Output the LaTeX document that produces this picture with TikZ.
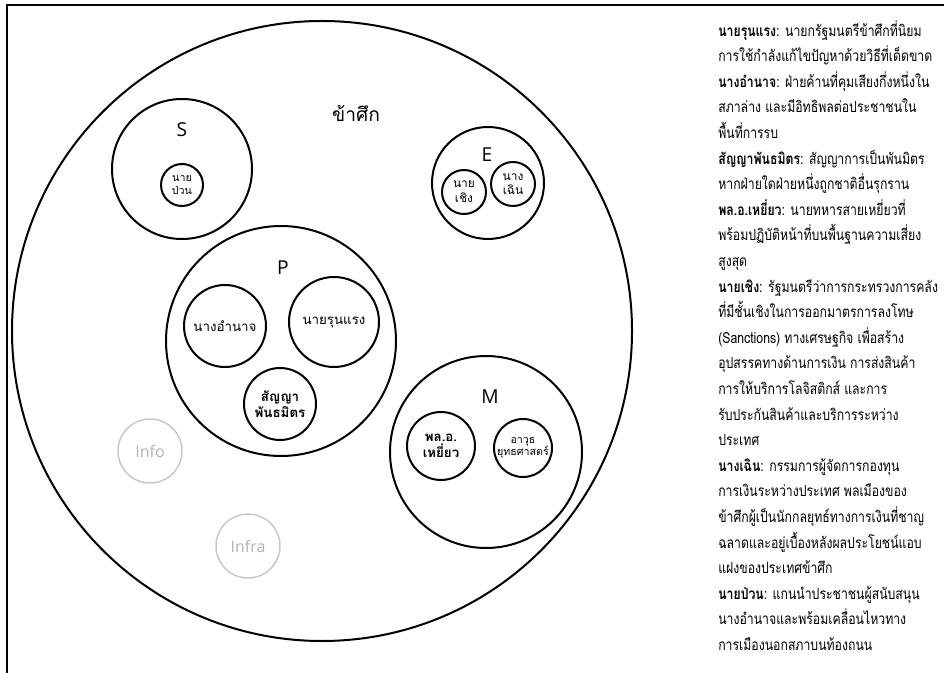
\documentclass[tikz,border=0pt]{standalone}
\usepackage{fontspec}
\setmainfont{Open Sans}
\newfontfamily\thaifont[Script=Thai]{Loma}
\newfontfamily\thainotes[Script=Thai, FakeStretch=0.8]{Loma}
\usetikzlibrary{positioning}

\begin{document}
\begin{tikzpicture}[x=0.75pt, y=-0.75pt,
    group/.style={draw, circle, line width=1.5pt, inner sep=0pt},
    member/.style={draw, circle, line width=1.5pt, inner sep=0pt, align=center, font=\thaifont\normalsize},
    faded/.style={draw=black!22, circle, line width=1.1pt, inner sep=0pt, text=black!30, font=\large},
    tag/.style={font=\Large}
]
    \useasboundingbox (0,0) rectangle (944,673);
    \draw[line width=2pt] (944,5) -- (7,5) -- (7,673);

    \node[group, minimum size=465pt] (enemy) at (322,331) {};
    \node[font=\thaifont\Large] (enemy-label) at (356,113) {ข้าศึก};

    \node[group, minimum size=105pt] (S) at (182,169) {};
    \node[tag] (S-label) at (182,130) {S};
    \node[member, minimum size=31.5pt, font=\thaifont\footnotesize] (puan) at (182,185) {นาย\\ป่วน};

    \node[group, minimum size=84pt] (E) at (488,183) {};
    \node[tag] (E-label) at (487,155) {E};
    \node[member, minimum size=33pt, font=\thaifont\small] (choeng) at (464,192) {นาย\\เชิง};
    \node[member, minimum size=33pt, font=\thaifont\small] (choen) at (513,184) {นาง\\เฉิน};

    \node[group, minimum size=172.5pt] (P) at (281,341) {};
    \node[tag] (P-label) at (283,268) {P};
    \node[member, minimum size=61.5pt] (amnat) at (225,326) {นางอำนาจ};
    \node[member, minimum size=67.5pt] (runraeng) at (334,322) {นายรุนแรง};
    \node[member, minimum size=54pt, font=\thaifont\normalsize\bfseries] (alliance) at (280,404) {สัญญา\\พันธมิตร};

    \node[group, minimum size=144pt] (M) at (486,452) {};
    \node[tag] (M-label) at (490,397) {M};
    \node[member, minimum size=51pt, font=\thaifont\normalsize\bfseries] (hawk) at (441,446) {พล.อ.\\เหยี่ยว};
    \node[member, minimum size=43.5pt, font=\thaifont\footnotesize] (weapon) at (523,448) {อาวุธ\\ยุทธศาสตร์};

    \node[faded, minimum size=48pt] (info) at (150,451) {Info};
    \node[faded, minimum size=48pt] (infra) at (248,546) {Infra};

    \node[anchor=north west, align=left, inner sep=0pt, font=\thainotes\fontsize{11.5}{19.2}\selectfont] (notes) at (718,20) {%
        \textbf{นายรุนแรง}: นายกรัฐมนตรีข้าศึกที่นิยม\\
        การใช้กำลังแก้ไขปัญหาด้วยวิธีที่เด็ดขาด\\
        \textbf{นางอำนาจ}: ฝ่ายค้านที่คุมเสียงกึ่งหนึ่งใน\\
        สภาล่าง และมีอิทธิพลต่อประชาชนใน\\
        พื้นที่การรบ\\
        \textbf{สัญญาพันธมิตร}: สัญญาการเป็นพันมิตร\\
        หากฝ่ายใดฝ่ายหนึ่งถูกชาติอื่นรุกราน\\
        \textbf{พล.อ.เหยี่ยว}: นายทหารสายเหยี่ยวที่\\
        พร้อมปฏิบัติหน้าที่บนพื้นฐานความเสี่ยง\\
        สูงสุด\\
        \textbf{นายเชิง}: รัฐมนตรีว่าการกระทรวงการคลัง\\
        ที่มีชั้นเชิงในการออกมาตรการลงโทษ\\
        (Sanctions) ทางเศรษฐกิจ เพื่อสร้าง\\
        อุปสรรคทางด้านการเงิน การส่งสินค้า\\
        การให้บริการโลจิสติกส์ และการ\\
        รับประกันสินค้าและบริการระหว่าง\\
        ประเทศ\\
        \textbf{นางเฉิน}: กรรมการผู้จัดการกองทุน\\
        การเงินระหว่างประเทศ พลเมืองของ\\
        ข้าศึกผู้เป็นนักกลยุทธ์ทางการเงินที่ชาญ\\
        ฉลาดและอยู่เบื้องหลังผลประโยชน์แอบ\\
        แฝงของประเทศข้าศึก\\
        \textbf{นายป่วน}: แกนนำประชาชนผู้สนับสนุน\\
        นางอำนาจและพร้อมเคลื่อนไหวทาง\\
        การเมืองนอกสภาบนท้องถนน};
\end{tikzpicture}
\end{document}
